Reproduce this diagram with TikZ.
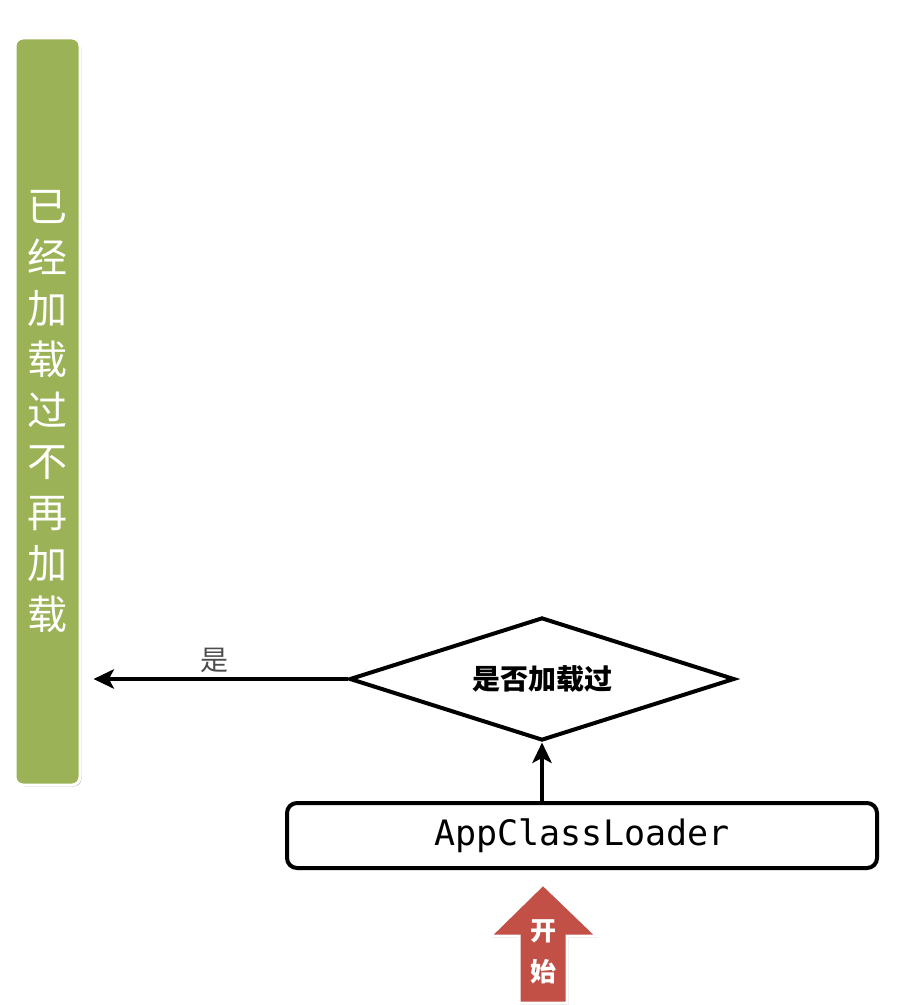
\documentclass[tikz,border=0pt]{standalone}
\usepackage{fontspec}
\setmonofont{DejaVu Sans Mono}
\newfontfamily\cjk{Noto Sans CJK SC}
\usetikzlibrary{arrows.meta,shapes.geometric,shadows}
\definecolor{ldgreen}{RGB}{155,179,86}
\definecolor{ldred}{RGB}{194,80,70}
\tikzset{
  ldbar/.style={
    rectangle,
    fill=ldgreen,
    draw=white,
    line width=1.5pt,
    rounded corners=4pt,
    minimum width=32.5pt,
    minimum height=373.5pt,
    drop shadow={shadow xshift=0.8pt,shadow yshift=-0.8pt,fill=black,opacity=0.25},
    text=white,
    align=center,
    font=\cjk\fontsize{20}{25.5}\selectfont
  },
  lddecide/.style={
    diamond,
    aspect=3.1,
    draw=black,
    line width=2pt,
    inner sep=0pt,
    minimum width=192.5pt,
    minimum height=61.5pt,
    font=\cjk\bfseries\fontsize{14}{16}\selectfont
  },
  ldbox/.style={
    rectangle,
    draw=black,
    line width=2pt,
    rounded corners=5pt,
    minimum width=295pt,
    minimum height=32.5pt,
    font=\ttfamily\fontsize{17.5}{20}\selectfont
  },
  ldlabel/.style={
    text=black!70,
    font=\cjk\fontsize{14}{16}\selectfont
  },
  ldstart/.style={
    fill=ldred,
    draw=white,
    line width=1.5pt,
    drop shadow={shadow xshift=0.8pt,shadow yshift=-0.8pt,fill=black,opacity=0.25}
  },
  ldstarttext/.style={
    text=white,
    align=center,
    font=\cjk\bfseries\fontsize{13}{20.5}\selectfont
  },
  ldarrow/.style={
    -{Stealth[length=3.6mm,width=3.4mm,inset=0.9mm]},
    line width=2pt,
    draw=black
  }
}

\begin{document}
\begin{tikzpicture}[x=0.5pt,y=-0.5pt]
    \useasboundingbox (0,0) rectangle (905,1005);
    \node (loaded) [ldbar] at (47.5,411.5) {已\\经\\加\\载\\过\\不\\再\\加\\载};
    \node (check) [lddecide] at (542,679) {是否加载过};
    \node (apploader) [ldbox] at (582,835.5) {AppClassLoader};

    % start arrow
    \filldraw[ldstart] (543,884) -- (597,936) -- (567,936) -- (567,1003)
      -- (519,1003) -- (519,936) -- (490,936) -- cycle;
    \node (starttxt) [ldstarttext] at (543,952) {开\\始};

    \draw[ldarrow] (apploader.north -| check.south) -- (check.south);
    \draw[ldarrow, shorten >=6pt] (check.west) -- (loaded.east |- check.west)
      node[ldlabel, midway, above=-1pt] {是};
  \end{tikzpicture}
\end{document}
